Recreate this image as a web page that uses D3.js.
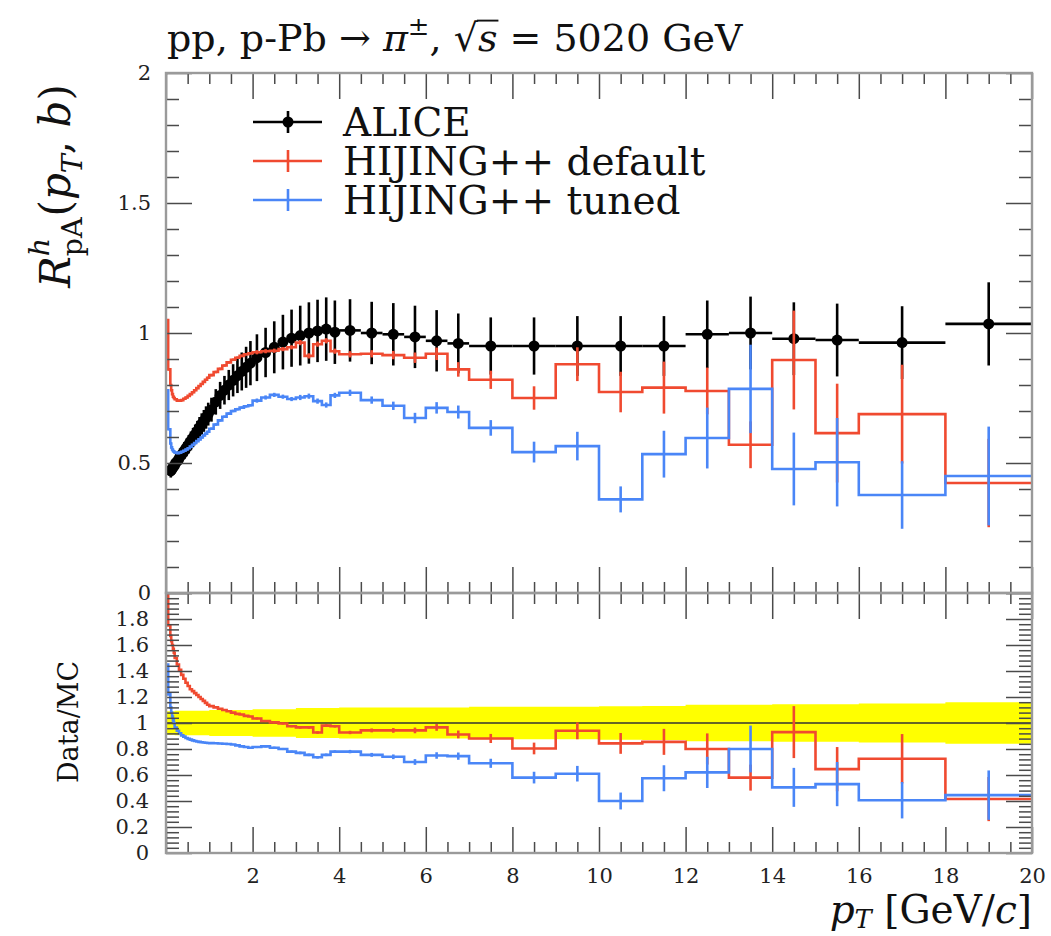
<!DOCTYPE html>
<html><head><meta charset="utf-8">
<script src="https://cdn.jsdelivr.net/npm/d3@7"></script>
<style>body{margin:0;background:#fff}svg{display:block}text{white-space:pre}</style>
</head><body>
<svg id="c" width="1051" height="936"></svg>
<script>
// ---------------- DATA ----------------
// MC histogram bin edges (pT, GeV/c)
const mcEdges = [0,0.05,0.1,0.12,0.14,0.16,0.18,0.2,0.25,0.3,0.35,0.4,0.45,0.5,0.55,0.6,0.65,0.7,0.75,0.8,0.85,0.9,0.95,1.0,
  1.1,1.2,1.3,1.4,1.5,1.6,1.7,1.8,1.9,2.0,2.2,2.4,2.6,2.8,3.0,3.2,3.4,3.6,3.8,4.0,4.5,5.0,5.5,6.0,6.5,7.0,
  8,9,10,11,12,13,14,15,16,18,20];
// ALICE data bin edges start at 0.1
const dataEdges = mcEdges.slice(2);
const aliceValues = [0.47,0.475,0.48,0.485,0.49,
  0.50,0.51,0.525,0.535,0.548,0.56,0.572,0.585,0.598,0.61,0.623,0.637,0.65,0.662,0.675,0.688,
  0.705,0.735,0.76,0.78,0.80,0.818,0.836,0.852,0.868,0.884,
  0.905,0.925,0.945,0.965,0.98,
  0.99,1.0,1.008,1.015,1.003,
  1.01,1.0,0.995,0.985,0.97,0.96,
  0.95,0.95,0.95,0.95,0.95,0.995,1.0,0.978,0.973,0.963,1.035];
const aliceErrors = [0.026,0.026,0.027,0.027,0.028,
  0.029,0.03,0.031,0.032,0.033,0.034,0.035,0.036,0.037,0.038,0.039,0.04,0.041,0.042,0.043,0.044,
  0.046,0.049,0.052,0.055,0.058,0.062,0.067,0.073,0.079,0.085,
  0.09,0.095,0.1,0.105,0.11,
  0.115,0.118,0.12,0.122,0.122,
  0.12,0.12,0.12,0.12,0.118,0.115,
  0.11,0.11,0.115,0.115,0.115,0.13,0.14,0.14,0.14,0.14,0.16];
// relative data uncertainty band (ratio panel)
const bandHalfWidth = [0.09,0.09,0.09,0.09,0.09,
  0.095,0.095,0.095,0.095,0.095,0.095,0.095,0.095,0.095,0.095,0.095,0.095,0.095,0.095,0.095,0.095,
  0.1,0.1,0.1,0.1,0.1,0.1,0.1,0.1,0.1,0.1,
  0.105,0.105,0.105,0.105,0.105,
  0.115,0.115,0.115,0.115,0.115,
  0.12,0.12,0.12,0.12,0.12,0.12,
  0.125,0.125,0.125,0.128,0.13,0.14,0.14,0.145,0.145,0.15,0.16];
const defaultValues = [1.05,0.86,
  0.80,0.78,0.765,0.755,0.75,
  0.745,0.74,0.74,0.742,0.747,0.752,0.758,0.765,0.772,0.78,0.788,0.796,0.804,0.812,0.82,0.828,
  0.838,0.85,0.862,0.875,0.887,0.897,0.905,0.912,0.918,0.922,
  0.926,0.93,0.932,0.938,0.945,
  0.963,0.912,0.957,0.97,0.93,
  0.918,0.92,0.915,0.905,0.92,0.86,
  0.82,0.75,0.88,0.773,0.79,0.777,0.57,0.896,0.615,0.688,0.423];
const defaultErrors = [0.004,0.004,0.004,0.004,0.004,0.004,0.004,
  0.004,0.004,0.004,0.004,0.004,0.004,0.004,0.004,0.004,0.004,0.004,0.004,0.004,0.004,0.004,0.004,
  0.005,0.005,0.005,0.005,0.005,0.005,0.005,0.005,0.005,0.005,
  0.008,0.008,0.008,0.008,0.008,
  0.01,0.01,0.01,0.01,0.01,
  0.012,0.014,0.016,0.02,0.024,0.028,
  0.035,0.045,0.065,0.078,0.1,0.09,0.09,0.19,0.19,0.19,0.17];
const tunedValues = [0.78,0.63,
  0.575,0.56,0.552,0.546,0.543,
  0.54,0.538,0.54,0.543,0.547,0.552,0.557,0.563,0.57,0.577,0.584,0.591,0.598,0.606,0.613,0.62,
  0.632,0.648,0.664,0.678,0.69,0.7,0.707,0.713,0.718,0.722,
  0.74,0.752,0.762,0.755,0.746,
  0.752,0.757,0.738,0.723,0.76,
  0.77,0.742,0.72,0.673,0.712,0.696,
  0.635,0.542,0.565,0.36,0.534,0.596,0.785,0.477,0.503,0.377,0.45];
const tunedErrors = [0.004,0.004,0.004,0.004,0.004,0.004,0.004,
  0.004,0.004,0.004,0.004,0.004,0.004,0.004,0.004,0.004,0.004,0.004,0.004,0.004,0.004,0.004,0.004,
  0.005,0.005,0.005,0.005,0.005,0.005,0.005,0.005,0.005,0.005,
  0.008,0.008,0.008,0.008,0.008,
  0.01,0.01,0.01,0.01,0.01,
  0.012,0.014,0.016,0.02,0.022,0.025,
  0.03,0.04,0.055,0.05,0.09,0.117,0.17,0.14,0.17,0.13,0.19];
// MC / data ratios
const defaultRatio = [1.98,1.75,
  1.67,1.63,1.60,1.57,1.54,
  1.50,1.45,1.41,1.37,1.34,1.31,1.285,1.26,1.245,1.23,1.215,1.2,1.185,1.17,1.155,1.14,
  1.13,1.12,1.11,1.1,1.09,1.08,1.07,1.065,1.055,1.05,
  1.035,1.015,1.005,0.996,0.975,
  0.966,0.966,0.927,0.98,0.975,
  0.927,0.943,0.943,0.943,0.966,0.912,
  0.881,0.804,0.94,0.843,0.855,0.80,0.58,0.93,0.645,0.725,0.415];
const defaultRatioErrors = [0.004,0.004,0.004,0.004,0.004,0.004,0.004,
  0.004,0.004,0.004,0.004,0.004,0.004,0.004,0.004,0.004,0.004,0.004,0.004,0.004,0.004,0.004,0.004,
  0.005,0.005,0.005,0.005,0.005,0.005,0.005,0.005,0.005,0.005,
  0.008,0.008,0.008,0.008,0.008,
  0.01,0.01,0.01,0.01,0.01,
  0.013,0.015,0.018,0.022,0.026,0.03,
  0.035,0.045,0.065,0.08,0.1,0.12,0.1,0.2,0.17,0.19,0.17];
const tunedRatio = [1.45,1.22,
  1.12,1.08,1.05,1.02,1.0,
  0.965,0.94,0.92,0.905,0.895,0.885,0.878,0.872,0.866,0.862,0.858,0.855,0.852,0.85,0.848,0.846,
  0.845,0.844,0.842,0.84,0.838,0.835,0.828,0.82,0.815,0.81,
  0.815,0.82,0.81,0.80,0.78,
  0.77,0.755,0.736,0.755,0.78,
  0.78,0.755,0.74,0.70,0.75,0.745,
  0.69,0.58,0.61,0.40,0.575,0.62,0.80,0.505,0.53,0.406,0.445];
const tunedRatioErrors = [0.004,0.004,0.004,0.004,0.004,0.004,0.004,
  0.004,0.004,0.004,0.004,0.004,0.004,0.004,0.004,0.004,0.004,0.004,0.004,0.004,0.004,0.004,0.004,
  0.005,0.005,0.005,0.005,0.005,0.005,0.005,0.005,0.005,0.005,
  0.008,0.008,0.008,0.008,0.008,
  0.01,0.01,0.01,0.01,0.01,
  0.013,0.015,0.018,0.022,0.025,0.028,
  0.035,0.045,0.06,0.065,0.1,0.12,0.18,0.15,0.17,0.14,0.19];
// ticks
const xTickLabels = [2,4,6,8,10,12,14,16,18,20];
const yMainTickLabels = [0,0.5,1,1.5,2];
const yRatioTickLabels = [0,0.2,0.4,0.6,0.8,1,1.2,1.4,1.6,1.8];
const legendLabels = ["ALICE","HIJING++ default","HIJING++ tuned"];

// ---------------- LAYOUT ----------------
const FONT = "'DejaVu Serif', serif";
const L=166, R=1032, T=73, M=593, B=853;
const RED="#f04a30", BLUE="#4a86f7", FRAME="#9a9a9a", TICK="#4a4a4a";
const svg = d3.select('#c');
const x = d3.scaleLinear().domain([0,20]).range([L,R]);
const yM = d3.scaleLinear().domain([0,2]).range([M,T]);
const yR = d3.scaleLinear().domain([0,2]).range([B,M]);

const defs = svg.append('defs');
defs.append('clipPath').attr('id','clipM').append('rect').attr('x',L).attr('y',T).attr('width',R-L).attr('height',M-T);
defs.append('clipPath').attr('id','clipR').append('rect').attr('x',L).attr('y',M).attr('width',R-L).attr('height',B-M);

function binsOf(edges, vals, errs){
  return vals.map((v,i)=>({x0:edges[i], x1:edges[i+1], xc:(edges[i]+edges[i+1])/2, v:v, e:errs?errs[i]:0}));
}
function drawHist(g, edges, vals, errs, y, color){
  const bins = binsOf(edges, vals, errs);
  const pts = bins.map(b=>[b.x0,b.v]).concat([[edges[edges.length-1], vals[vals.length-1]]]);
  const line = d3.line().x(d=>x(d[0])).y(d=>y(d[1])).curve(d3.curveStepAfter);
  g.append('path').attr('d',line(pts)).attr('fill','none').attr('stroke',color).attr('stroke-width',2.6);
  g.selectAll(null).data(bins).enter().append('line')
    .attr('x1',d=>x(d.xc)).attr('x2',d=>x(d.xc))
    .attr('y1',d=>y(d.v-d.e)).attr('y2',d=>y(d.v+d.e))
    .attr('stroke',color).attr('stroke-width',2.6);
}
function drawData(g){
  const bins = binsOf(dataEdges, aliceValues, aliceErrors);
  const gg = g.append('g');
  gg.selectAll(null).data(bins).enter().append('line')
    .attr('x1',d=>x(d.x0)).attr('x2',d=>x(d.x1)).attr('y1',d=>yM(d.v)).attr('y2',d=>yM(d.v))
    .attr('stroke','#000').attr('stroke-width',2.6);
  gg.selectAll(null).data(bins).enter().append('line')
    .attr('x1',d=>x(d.xc)).attr('x2',d=>x(d.xc)).attr('y1',d=>yM(d.v-d.e)).attr('y2',d=>yM(d.v+d.e))
    .attr('stroke','#000').attr('stroke-width',2.6);
  gg.selectAll(null).data(bins).enter().append('circle')
    .attr('cx',d=>x(d.xc)).attr('cy',d=>yM(d.v)).attr('r',5.5).attr('fill','#000');
}

// main panel
const gMain = svg.append('g').attr('clip-path','url(#clipM)');
drawData(gMain);
drawHist(gMain, mcEdges, defaultValues, defaultErrors, yM, RED);
drawHist(gMain, mcEdges, tunedValues, tunedErrors, yM, BLUE);

// ratio panel
const gRat = svg.append('g').attr('clip-path','url(#clipR)');
const bandBins = binsOf(dataEdges, bandHalfWidth, null);
const bandPts = [[0, bandHalfWidth[0]]].concat(bandBins.slice(1).map(b=>[b.x0,b.v])).concat([[20, bandHalfWidth[bandHalfWidth.length-1]]]);
gRat.append('path')
  .attr('d', d3.area().x(d=>x(d[0])).y0(d=>yR(1-d[1])).y1(d=>yR(1+d[1])).curve(d3.curveStepAfter)(bandPts))
  .attr('fill','#ffff00');
gRat.append('line').attr('x1',L).attr('x2',R).attr('y1',yR(1)).attr('y2',yR(1)).attr('stroke','#333').attr('stroke-width',1.6);
drawHist(gRat, mcEdges, defaultRatio, defaultRatioErrors, yR, RED);
drawHist(gRat, mcEdges, tunedRatio, tunedRatioErrors, yR, BLUE);

// ---------------- AXES ----------------
function styleAxis(sel, fs){
  sel.select('.domain').remove();
  sel.selectAll('.tick line').attr('stroke',TICK).attr('stroke-width',1.5);
  sel.selectAll('.tick text').attr('font-family',FONT).attr('font-size',fs||21).attr('fill','#222');
}
const xMajor = d3.range(0,20.001,2), xMinor = d3.range(0,20.001,0.5).filter(v=>Math.abs(v/2-Math.round(v/2))>1e-6);
function xTicks(yPos, dirUp, withLabels){
  const mk = dirUp ? d3.axisBottom : d3.axisTop;
  const a1 = svg.append('g').attr('transform',`translate(0,${yPos})`)
    .call(mk(x).tickValues(xMajor).tickSize(-26).tickPadding(15).tickFormat(withLabels ? (d=> xTickLabels.includes(d)? d3.format('d')(d):'') : ''));
  styleAxis(a1, 21);
  const a2 = svg.append('g').attr('transform',`translate(0,${yPos})`)
    .call(mk(x).tickValues(xMinor).tickSize(-11).tickFormat(''));
  styleAxis(a2);
}
function yTicks(y, major, minor, majorLen, minorLen, labels, pad){
  const a1 = svg.append('g').attr('transform',`translate(${L},0)`)
    .call(d3.axisLeft(y).tickValues(major).tickSize(-majorLen).tickPadding(pad)
      .tickFormat(d=> labels.some(v=>Math.abs(v-d)<1e-6) ? d3.format('~g')(d) : ''));
  styleAxis(a1, 21);
  const a2 = svg.append('g').attr('transform',`translate(${L},0)`)
    .call(d3.axisLeft(y).tickValues(minor).tickSize(-minorLen).tickFormat(''));
  styleAxis(a2);
  const a3 = svg.append('g').attr('transform',`translate(${R},0)`)
    .call(d3.axisRight(y).tickValues(major).tickSize(-majorLen).tickFormat(''));
  styleAxis(a3);
  const a4 = svg.append('g').attr('transform',`translate(${R},0)`)
    .call(d3.axisRight(y).tickValues(minor).tickSize(-minorLen).tickFormat(''));
  styleAxis(a4);
}
const isMult = (v,s)=>Math.abs(v/s-Math.round(v/s))<1e-6;
yTicks(yM, d3.range(0,2.001,0.5), d3.range(0,2.001,0.1).filter(v=>!isMult(v,0.5)), 26, 13, yMainTickLabels, 15);
yTicks(yR, d3.range(0,2.001,0.2), d3.range(0,2.001,0.04).filter(v=>!isMult(v,0.2)), 26, 13, yRatioTickLabels, 17);
xTicks(T, false, false);
xTicks(M, true, false);
xTicks(M, false, false);
xTicks(B, true, true);

// frames
[[T,M],[M,B]].forEach(([a,b])=>{
  svg.append('rect').attr('x',L).attr('y',a).attr('width',R-L).attr('height',b-a)
    .attr('fill','none').attr('stroke',FRAME).attr('stroke-width',2.4);
});

// ---------------- TEXT ----------------
function rich(parent, pieces, baseSize){
  const g = parent.append('g');
  let cur = 0, prevStart = 0;
  pieces.forEach(p=>{
    const fs = (p.fs||1)*baseSize;
    const start = p.stack ? prevStart : cur + (p.dx||0)*baseSize;
    const t = g.append('text').attr('x',start).attr('y',-(p.shift||0)*baseSize)
      .attr('xml:space','preserve')
      .attr('font-family',FONT).attr('font-size',fs)
      .attr('font-style',p.it?'italic':'normal').attr('fill','#111').text(p.t);
    const w = t.node().getComputedTextLength();
    if (p.over) {
      g.append('line').attr('x1',start-1).attr('x2',start+w+1)
        .attr('y1',-baseSize*0.80).attr('y2',-baseSize*0.80).attr('stroke','#111').attr('stroke-width',baseSize*0.05);
    }
    if (p.stack) cur = Math.max(cur, start + w); else { prevStart = start; cur = start + w; }
  });
  return {g:g, width:cur};
}
// title
{
  const holder = svg.append('g').attr('transform','translate(167,51)');
  rich(holder, [
    {t:'pp, p-Pb → '},{t:'π',it:1},{t:'±',fs:0.68,shift:0.42},{t:', '},
    {t:'√'},{t:'s',it:1,over:1},{t:' = 5020 GeV'}
  ], 38);
}
// y label main
{
  const holder = svg.append('g').attr('transform','translate(70,186) rotate(-90)');
  const r = rich(holder, [
    {t:'R',it:1},{t:'h',it:1,fs:0.68,shift:0.5},{t:'pA',fs:0.68,shift:-0.28,stack:1},
    {t:'(',dx:0.02},{t:'p',it:1},{t:'T',it:1,fs:0.68,shift:-0.28},{t:', '},{t:'b',it:1},{t:')'}
  ], 42);
  r.g.attr('transform',`translate(${-r.width/2},0)`);
}
// y label ratio
{
  const holder = svg.append('g').attr('transform','translate(78,722) rotate(-90)');
  const r = rich(holder, [{t:'Data/MC'}], 27);
  r.g.attr('transform',`translate(${-r.width/2},0)`);
}
// x label
{
  const holder = svg.append('g').attr('transform','translate(1032,923)');
  const r = rich(holder, [
    {t:'p',it:1},{t:'T',it:1,fs:0.66,shift:-0.14},{t:' [GeV/'},{t:'c',it:1},{t:']'}
  ], 39);
  r.g.attr('transform',`translate(${-r.width},0)`);
}
// legend
{
  const rows = [
    {label:legendLabels[0], color:'#000', marker:true, y:122},
    {label:legendLabels[1], color:RED, marker:false, y:161},
    {label:legendLabels[2], color:BLUE, marker:false, y:200}
  ];
  const lg = svg.append('g');
  rows.forEach(r=>{
    lg.append('line').attr('x1',253).attr('x2',322).attr('y1',r.y).attr('y2',r.y).attr('stroke',r.color).attr('stroke-width',2.6);
    lg.append('line').attr('x1',288).attr('x2',288).attr('y1',r.y-11).attr('y2',r.y+11).attr('stroke',r.color).attr('stroke-width',2.6);
    if (r.marker) lg.append('circle').attr('cx',288).attr('cy',r.y).attr('r',5.5).attr('fill','#000');
    lg.append('text').attr('x',343).attr('y',r.y+14).attr('font-family',FONT).attr('font-size',39)
      .attr('fill','#111').text(r.label);
  });
}
</script>
</body></html>
